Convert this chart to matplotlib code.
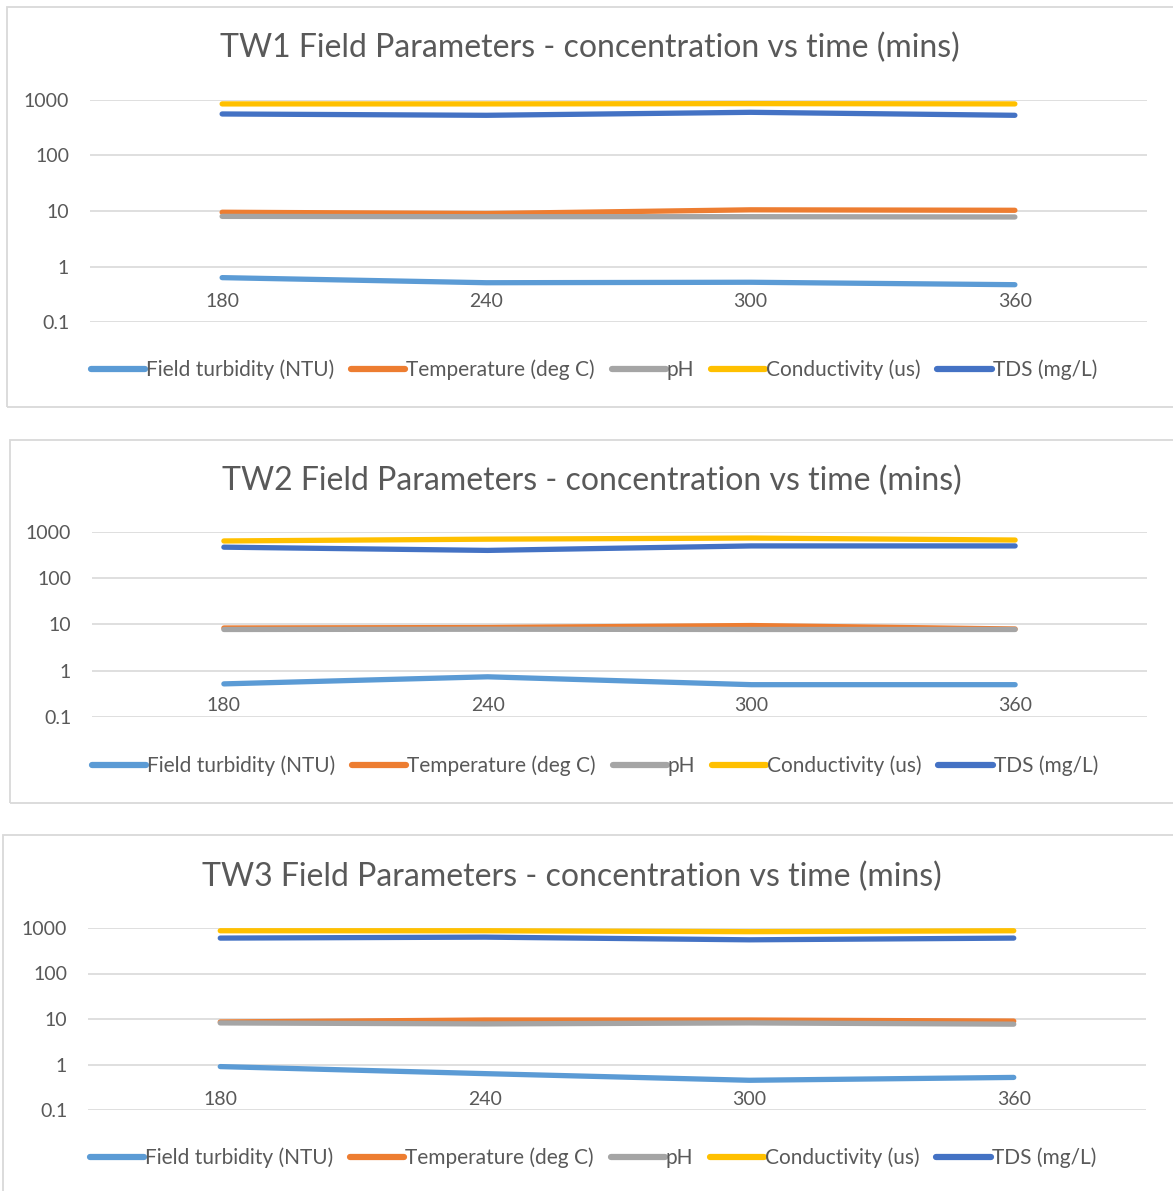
import numpy as np
import matplotlib
matplotlib.use('Agg')
from matplotlib import pyplot as plt
from matplotlib.patches import Rectangle

plt.rcParams['font.family'] = ['Lato', 'DejaVu Sans']

times = ['180', '240', '300', '360']
series_names = ['Field turbidity (NTU)', 'Temperature (deg C)', 'pH',
                'Conductivity (us)', 'TDS (mg/L)']
colors = ['#5B9BD5', '#ED7D31', '#A5A5A5', '#FFC000', '#4472C4']

# TW1
tw1_turbidity = [0.63, 0.51, 0.52, 0.47]
tw1_temp = [9.5, 9.0, 10.5, 10.3]
tw1_ph = [8.0, 7.9, 7.9, 7.8]
tw1_cond = [850, 850, 860, 850]
tw1_tds = [560, 530, 600, 530]

# TW2
tw2_turbidity = [0.52, 0.74, 0.50, 0.50]
tw2_temp = [8.4, 8.6, 9.5, 8.0]
tw2_ph = [7.8, 7.9, 7.8, 7.8]
tw2_cond = [640, 700, 740, 670]
tw2_tds = [470, 400, 500, 500]

# TW3
tw3_turbidity = [0.90, 0.63, 0.45, 0.52]
tw3_temp = [8.6, 9.5, 9.5, 9.0]
tw3_ph = [8.2, 7.8, 8.2, 7.7]
tw3_cond = [870, 870, 830, 870]
tw3_tds = [600, 630, 550, 600]

titles = ['TW1 Field Parameters - concentration vs time (mins)',
          'TW2 Field Parameters - concentration vs time (mins)',
          'TW3 Field Parameters - concentration vs time (mins)']
data = [
    [tw1_turbidity, tw1_temp, tw1_ph, tw1_cond, tw1_tds],
    [tw2_turbidity, tw2_temp, tw2_ph, tw2_cond, tw2_tds],
    [tw3_turbidity, tw3_temp, tw3_ph, tw3_cond, tw3_tds],
]

W, H = 1173, 1191
fig = plt.figure(figsize=(W / 100, H / 100), dpi=100)

# layout in pixels: axes (left, right, top, bottom), panel box, title pos, legend pos
axes_px = [(90, 1147, 100, 322), (92, 1147, 532, 717), (88, 1146, 928, 1110)]
box_px = [(7, 1180, 7, 407), (10, 1180, 440, 803), (3, 1180, 835, 1200)]
title_px = [(590, 48), (592, 481), (572, 877)]
legend_px = [(594, 370), (595, 766), (593, 1158)]

grey = '#595959'
x = np.arange(len(times))

for i in range(3):
    bx0, bx1, by0, by1 = box_px[i]
    fig.patches.append(Rectangle((bx0 / W, 1 - by1 / H), (bx1 - bx0) / W, (by1 - by0) / H,
                                 transform=fig.transFigure, fill=False,
                                 edgecolor='#D9D9D9', lw=1.3))
    l, r, t, b = axes_px[i]
    ax = fig.add_axes([l / W, 1 - b / H, (r - l) / W, (b - t) / H])
    lines = []
    for vals, name, c in zip(data[i], series_names, colors):
        ln, = ax.plot(x, vals, color=c, lw=3.8, solid_capstyle='round',
                      solid_joinstyle='round', label=name)
        lines.append(ln)
    ax.set_yscale('log')
    ax.set_ylim(0.1, 1000)
    ax.set_xlim(-0.5, 3.5)
    ax.set_yticks([0.1, 1, 10, 100, 1000])
    ax.set_yticklabels(['0.1', '1', '10', '100', '1000'])
    ax.minorticks_off()
    ax.set_xticks(x)
    ax.set_xticklabels(times)
    ax.grid(axis='y', color='#D9D9D9', lw=1.2)
    ax.set_axisbelow(True)
    for s in ax.spines.values():
        s.set_visible(False)
    ax.spines['bottom'].set_position(('data', 1))
    ax.tick_params(axis='both', length=0, labelsize=14, labelcolor=grey)
    ax.tick_params(axis='y', pad=15)
    ax.tick_params(axis='x', pad=19)

    tx, ty = title_px[i]
    fig.text(tx / W, 1 - ty / H, titles[i], ha='center', va='center',
             fontsize=23, color=grey)
    lx, ly = legend_px[i]
    leg = fig.legend(handles=lines, loc='center', bbox_to_anchor=(lx / W, 1 - ly / H),
                     ncol=5, frameon=False, fontsize=15, labelcolor=grey,
                     handlelength=2.6, handletextpad=0.05, columnspacing=0.8)
    for h in leg.legend_handles:
        h.set_linewidth(4.5)

fig.savefig('out.png', dpi=100)
